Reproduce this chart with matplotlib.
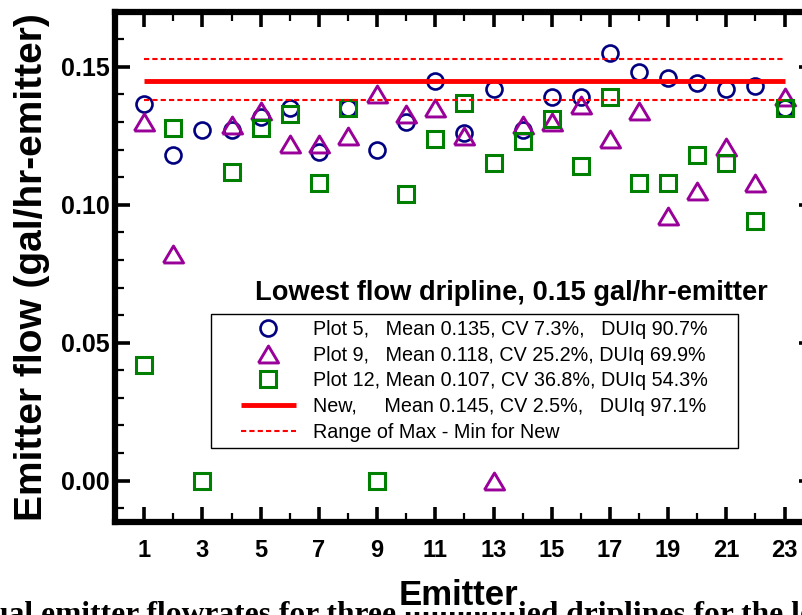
import numpy as np
import matplotlib.pyplot as plt
from matplotlib.ticker import MultipleLocator, FormatStrFormatter
from matplotlib.lines import Line2D
from matplotlib.legend_handler import HandlerLine2D

plt.rcParams['font.family'] = ['Liberation Sans', 'DejaVu Sans']

# Emitter flow (gal/hr-emitter)
emitter = np.arange(1, 24)
plot5 = [0.1365, 0.118, 0.127, 0.127, 0.132, 0.135, 0.119, 0.135, 0.120, 0.130,
         0.145, 0.126, 0.142, 0.127, 0.139, 0.139, 0.155, 0.148, 0.146, 0.144,
         0.142, 0.143, 0.135]
plot9 = [0.130, 0.082, np.nan, 0.129, 0.134, 0.122, 0.122, 0.125, 0.140, 0.133,
         0.135, 0.125, 0.000, 0.129, 0.130, 0.136, 0.124, 0.134, 0.096, 0.105,
         0.121, 0.108, 0.139]
plot12 = [0.042, 0.128, 0.000, 0.112, 0.128, 0.133, 0.108, 0.135, 0.000, 0.104,
          0.124, 0.137, 0.115, 0.123, 0.131, 0.114, 0.139, 0.108, 0.108, 0.118,
          0.115, 0.094, 0.135]
new_mean = 0.145
new_max = 0.153
new_min = 0.138

labels = ['Plot 5,   Mean 0.135, CV 7.3%,   DUIq 90.7%',
          'Plot 9,   Mean 0.118, CV 25.2%, DUIq 69.9%',
          'Plot 12, Mean 0.107, CV 36.8%, DUIq 54.3%',
          'New,     Mean 0.145, CV 2.5%,   DUIq 97.1%',
          'Range of Max - Min for New']
legend_title = 'Lowest flow dripline, 0.15 gal/hr-emitter'
caption = 'Individual emitter flowrates for three unmodified driplines for the lowest flow'

# triangle a bit wider than tall, like the original
tri = [(-1, -0.84), (1, -0.84), (0, 0.84), (-1, -0.84)]

fig = plt.figure(figsize=(8.02, 6.15), dpi=100)
ax = fig.add_axes([0.1436, 0.1512, 0.8709, 0.8298])

xs = [emitter[0], emitter[-1]]
ax.plot(emitter, plot5, linestyle='none', marker='o', ms=11.5, mfc='none',
        mec='#000080', mew=1.9, label=labels[0])
ax.plot(emitter, plot9, linestyle='none', marker=tri, ms=14.5, mfc='none',
        mec='#990099', mew=2.1, label=labels[1])
ax.plot(emitter, plot12, linestyle='none', marker='s', ms=11.5, mfc='none',
        mec='#008000', mew=2.2, label=labels[2])
ax.plot(xs, [new_mean, new_mean], color='red', lw=3.5, solid_capstyle='butt',
        label=labels[3])
ax.plot(xs, [new_max, new_max], color='red', lw=1.5, ls=(0, (2.5, 1.5)),
        label=labels[4])
ax.plot(xs, [new_min, new_min], color='red', lw=1.5, ls=(0, (2.5, 1.5)))

ax.set_xlim(0, 24)
ax.set_ylim(-0.015, 0.17)
ax.set_xticks(np.arange(1, 24, 2))
ax.set_xticks(np.arange(2, 24, 2), minor=True)
ax.yaxis.set_major_locator(MultipleLocator(0.05))
ax.yaxis.set_minor_locator(MultipleLocator(0.01))
ax.yaxis.set_major_formatter(FormatStrFormatter('%.2f'))

ax.tick_params(which='both', direction='in', top=True, right=True)
ax.tick_params(which='major', length=10.5, width=2.6)
ax.tick_params(which='minor', length=6.5, width=1.6)
ax.tick_params(axis='x', which='major', labelsize=17, pad=12)
ax.tick_params(axis='y', which='major', labelsize=18, pad=4)
for lab in ax.get_xticklabels() + ax.get_yticklabels():
    lab.set_fontweight('bold')
for sp in ax.spines.values():
    sp.set_linewidth(4.5)

ax.set_ylabel('Emitter flow (gal/hr-emitter)', fontsize=28, fontweight='bold')
ax.yaxis.set_label_coords(-0.093, 0.5)
xl = ax.set_xlabel('Emitter', fontsize=25, fontweight='bold')
ax.xaxis.set_label_coords(0.492, -0.112)
xl.set_bbox(dict(facecolor='white', edgecolor='none', pad=0))

leg = ax.legend(loc='upper left', bbox_to_anchor=(0.1372, 0.143, 0.7546, 0.2646),
                mode='expand', borderaxespad=0, fontsize=14.2, fancybox=False,
                edgecolor='black', framealpha=1, numpoints=1,
                handlelength=4.0, handletextpad=0.86, labelspacing=0.34,
                borderpad=0.3,
                handler_map={Line2D: HandlerLine2D(xpad=1.23)})
leg.get_frame().set_linewidth(1.0)

ax.text(0.1996, 0.4488, legend_title, transform=ax.transAxes, fontsize=19.6,
        fontweight='bold', ha='left', va='center')

fig.text(-0.133, -0.013, caption, fontsize=22.7, fontweight='bold',
         family=['Liberation Serif', 'DejaVu Serif'], ha='left', va='baseline',
         zorder=-1)

fig.savefig('out.png', dpi=100)
